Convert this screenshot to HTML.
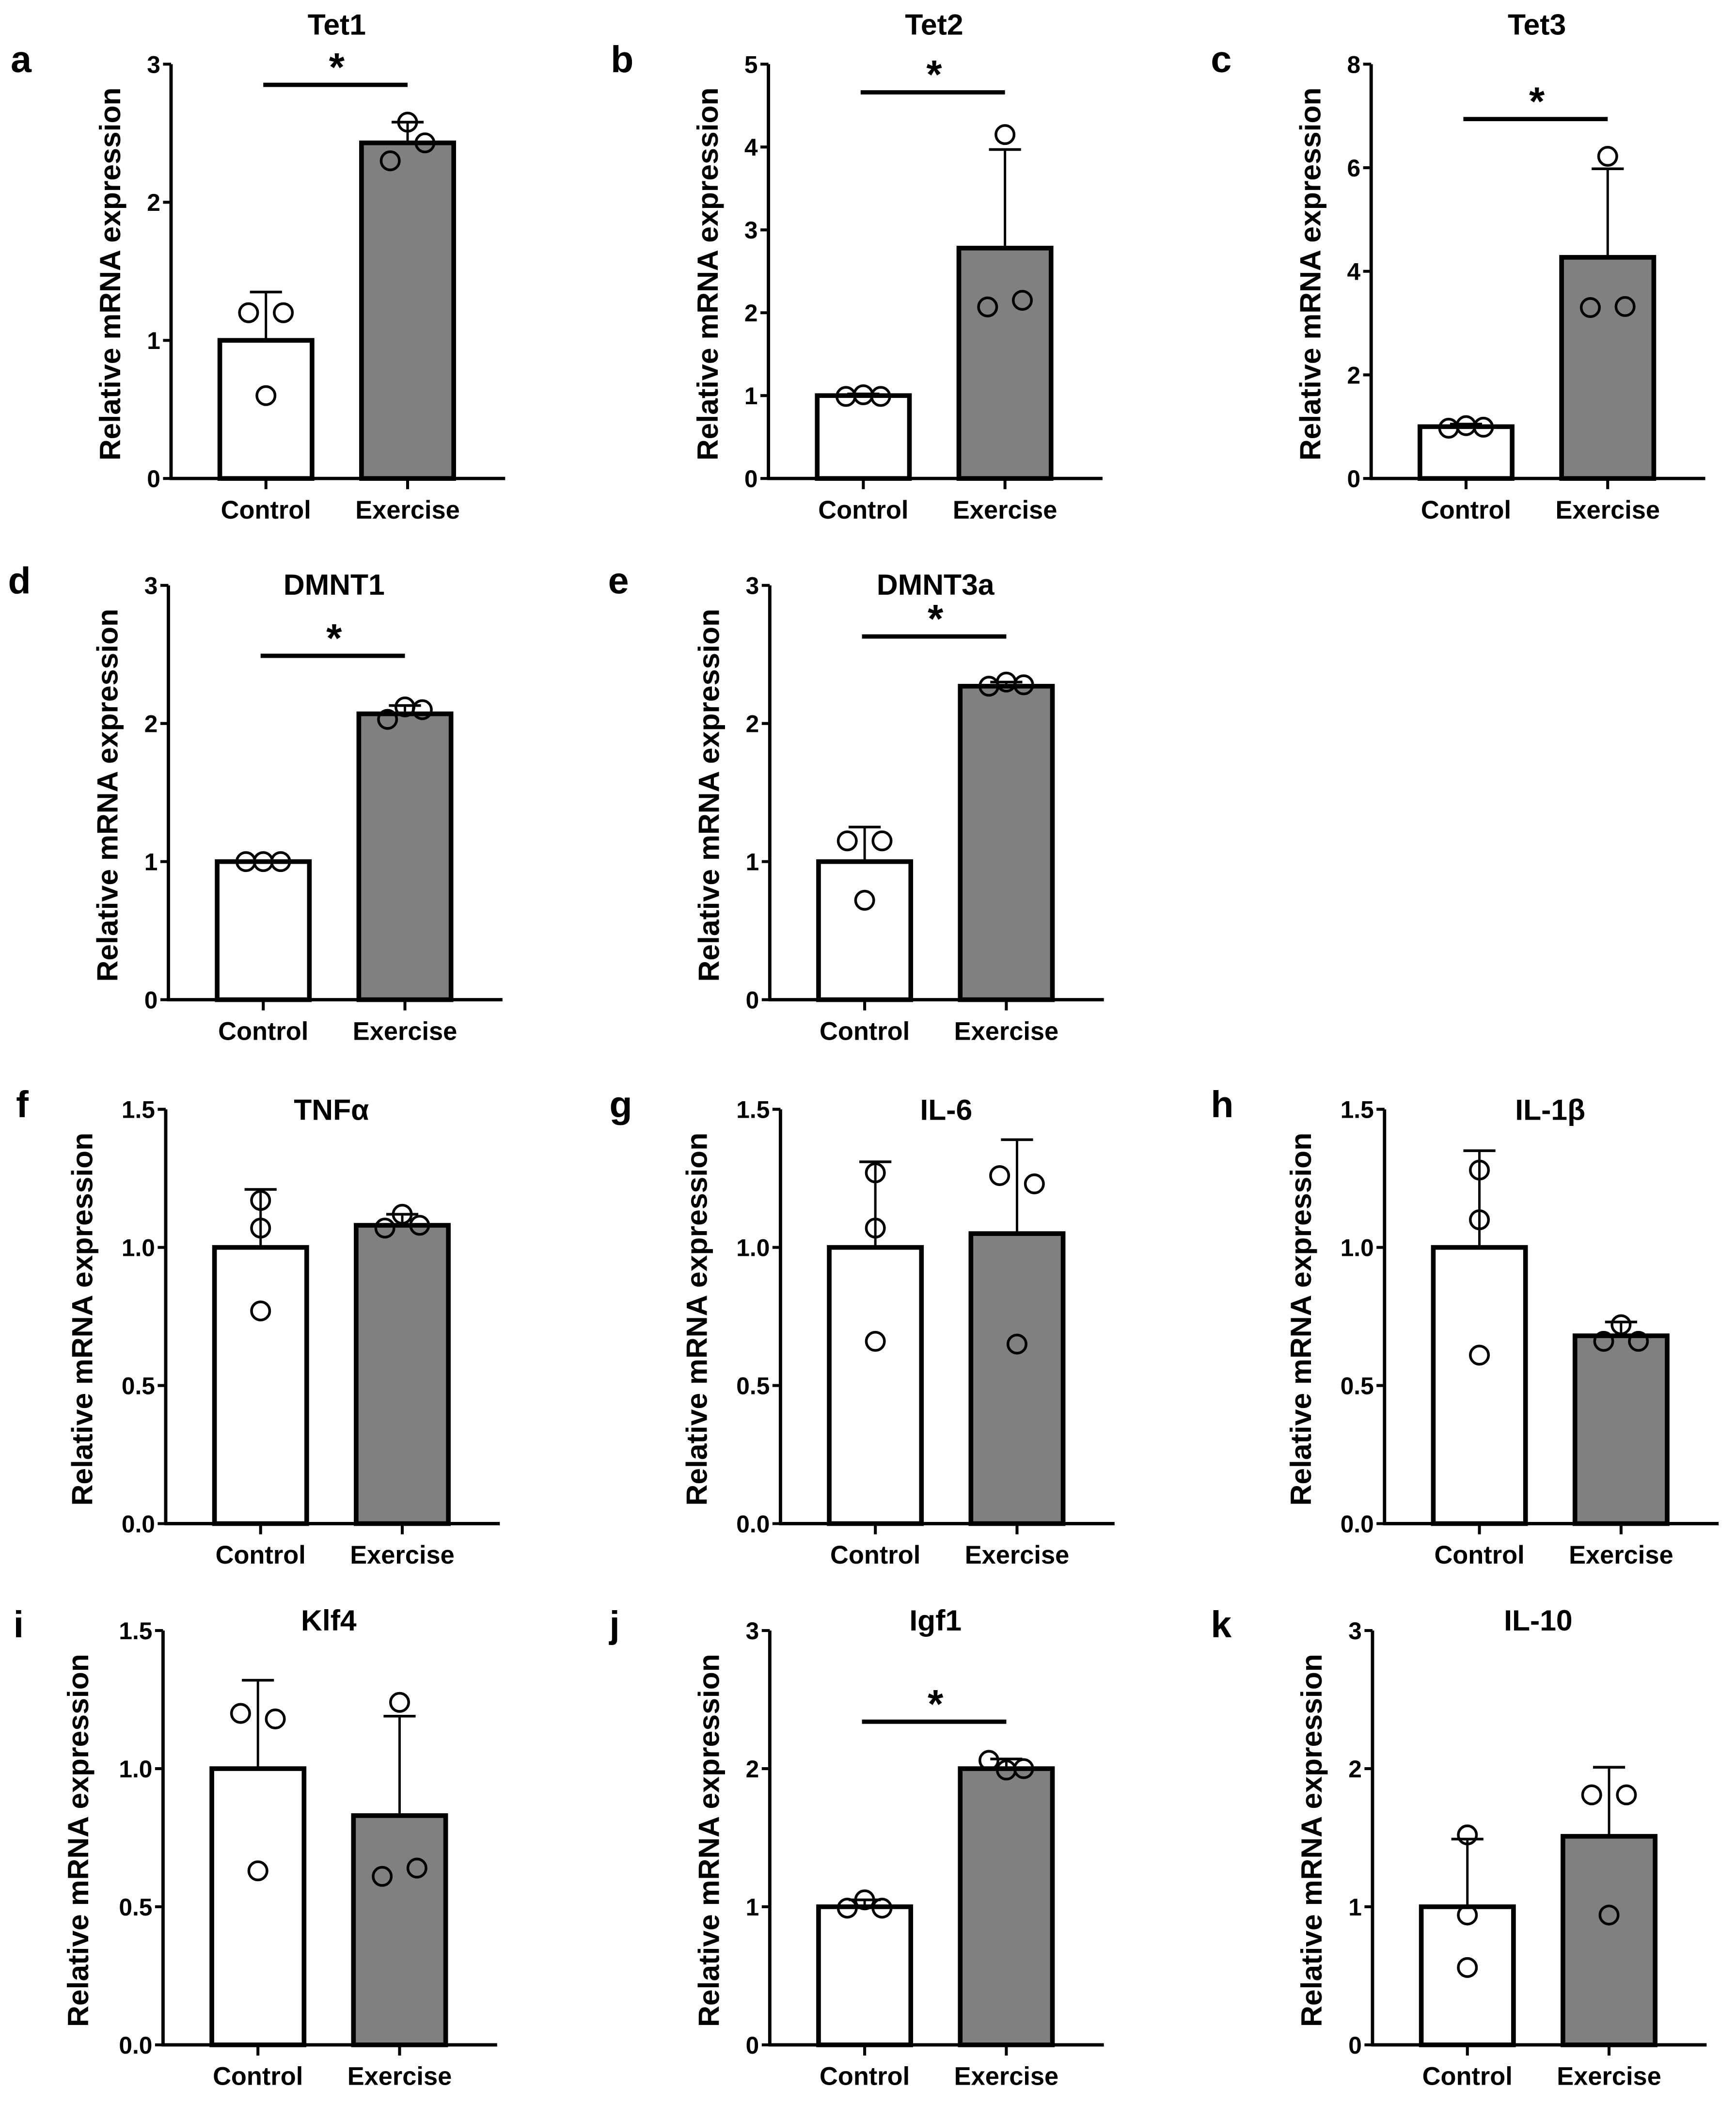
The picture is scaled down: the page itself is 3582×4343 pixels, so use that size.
<!DOCTYPE html>
<html>
<head>
<meta charset="utf-8">
<style>
html,body{margin:0;padding:0;background:#fff;}
svg{display:block;}
text{font-family:"Liberation Sans",Arial,sans-serif;font-weight:bold;fill:#000;}
</style>
</head>
<body>
<svg id="fig" width="3582" height="4343" viewBox="0 0 1299 1575" preserveAspectRatio="none" xmlns="http://www.w3.org/2000/svg"></svg>
<script>
// ---- data ----
const categories = ["Control", "Exercise"];
const panelLetters = ["a","b","c","d","e","f","g","h","i","j","k"];
const panelTitles = ["Tet1","Tet2","Tet3","DMNT1","DMNT3a","TNFα","IL-6","IL-1β","Klf4","Igf1","IL-10"];
const yMaxes = [3,5,8,3,3,1.5,1.5,1.5,1.5,3,3];
const yTickLabels = [
  ["0","1","2","3"],["0","1","2","3","4","5"],["0","2","4","6","8"],
  ["0","1","2","3"],["0","1","2","3"],
  ["0.0","0.5","1.0","1.5"],["0.0","0.5","1.0","1.5"],["0.0","0.5","1.0","1.5"],
  ["0.0","0.5","1.0","1.5"],["0","1","2","3"],["0","1","2","3"]
];
const controlMeans = [1.0,1.0,1.0,1.0,1.0,1.0,1.0,1.0,1.0,1.0,1.0];
const exerciseMeans = [2.43,2.78,4.27,2.07,2.27,1.08,1.05,0.68,0.83,2.0,1.51];
const controlErrTops = [1.35,1.02,1.05,1.0,1.25,1.21,1.31,1.35,1.32,1.05,1.49];
const exerciseErrTops = [2.58,3.97,5.98,2.13,2.3,1.12,1.39,0.73,1.19,2.07,2.01];
const controlPoints = [
  [1.2,0.6,1.2],[0.99,1.01,0.99],[0.97,1.02,0.99],[1.0,1.0,1.0],[1.15,0.72,1.15],
  [1.17,1.07,0.77],[1.27,1.07,0.66],[1.28,1.1,0.61],[1.2,0.63,1.18],[0.99,1.05,0.99],[1.52,0.94,0.56]
];
const exercisePoints = [
  [2.3,2.58,2.43],[2.07,4.15,2.15],[3.3,6.22,3.32],[2.03,2.12,2.1],[2.27,2.3,2.28],
  [1.07,1.12,1.08],[1.26,0.65,1.23],[0.66,0.72,0.66],[0.61,1.24,0.64],[2.06,1.99,2.0],[1.81,0.94,1.81]
];
const significant = [true,true,true,true,true,false,false,false,false,true,false];
const sigBarValues = [2.85,4.66,6.94,2.49,2.63,0,0,0,0,2.34,0];

// ---- layout (overview units) ----
const axisXs = [128,575,1026,126,576,124,584,1036,122,576,1027];
const y0s = [358,358,358,748,748,1140,1140,1140,1530,1530,1530];
const titleYs = [18,18,18,437,437,830,830,830,1212,1212,1212];
const letterXs = [8,457,906,6,455,12,456,906,10,456,906];
const letterYs = [54,54,54,444,444,836,836,836,1225,1225,1225];
const yTitleOffsets = [38,38,38,38,38,55,55,55,56,38,38];
const ctrlJitter = [[-13,0,13],[-13,0,13],[-13,0,13],[-13,0,13],[-13,0,13],[0,0,0],[0,0,0],[0,0,0],[-13,0,13],[-13,0,13],[0,0,0]];
const exJitter = [[-13,0,13],[-13,0,13],[-13,0,13],[-13,0,13],[-13,0,13],[-13,0,13],[-13,0,13],[-13,0,13],[-13,0,13],[-13,0,13],[-13,0,13]];
const PLOT_H = 310;

const NS = "http://www.w3.org/2000/svg";
const svg = document.getElementById("fig");
function mk(tag, attrs, parent){
  const e = document.createElementNS(NS, tag);
  for (const k in attrs) e.setAttribute(k, attrs[k]);
  (parent||svg).appendChild(e);
  return e;
}

for (let p = 0; p < panelTitles.length; p++) {
  const ax = axisXs[p], y0 = y0s[p], ymax = yMaxes[p];
  const yScale = v => y0 - v / ymax * PLOT_H;
  const xCenters = [ax + 71, ax + 177];
  const barW = 69;

  const g = mk("g", {});
  
  

  const letter = mk("text", {x: letterXs[p], y: letterYs[p], "font-size": 28}, g);
  letter.textContent = panelLetters[p];
  
  

  const title = mk("text", {x: ax + 124, y: titleYs[p] + 8, "font-size": 22, "text-anchor": "middle"}, g);
  title.textContent = panelTitles[p];
  
  

  const yt = mk("text", {x: 0, y: 0, "font-size": 22, "text-anchor": "middle",
    transform: "translate(" + (ax - yTitleOffsets[p]) + "," + (y0 - PLOT_H / 2 + 2) + ") rotate(-90)"}, g);
  yt.textContent = "Relative mRNA expression";
  
  

  const means = [controlMeans[p], exerciseMeans[p]];
  const tops = [controlErrTops[p], exerciseErrTops[p]];
  const pts = [controlPoints[p], exercisePoints[p]];
  const jit = [ctrlJitter[p], exJitter[p]];
  for (let c = 0; c < 2; c++) {
    const cx = xCenters[c];
    const yb = yScale(means[c]);
    const et = yScale(tops[c]);
    const eb = mk("line", {x1: cx, x2: cx, y1: yb, y2: et, stroke: "#000", "stroke-width": 1.8}, g);
    
    
    const cap = mk("line", {x1: cx - 12, x2: cx + 12, y1: et, y2: et, stroke: "#000", "stroke-width": 2}, g);
    
    
    const bar = mk("rect", {x: cx - barW / 2, y: yb, width: barW, height: y0 - yb,
      fill: c === 0 ? "#fff" : "#808080", stroke: "#000", "stroke-width": 3.5}, g);
    
    
    for (let i = 0; i < 3; i++) {
      const dot = mk("circle", {cx: cx + jit[c][i], cy: yScale(pts[c][i]), r: 6.8,
        fill: "none", stroke: "#000", "stroke-width": 2}, g);
      
      
    }
  }

  const yaxis = mk("line", {x1: ax, x2: ax, y1: y0 - PLOT_H, y2: y0 + 1, stroke: "#000", "stroke-width": 2.5}, g);
  
  
  const xaxis = mk("line", {x1: ax - 1, x2: ax + 250, y1: y0, y2: y0, stroke: "#000", "stroke-width": 2.5}, g);
  
  

  const labs = yTickLabels[p];
  for (let i = 0; i < labs.length; i++) {
    const v = parseFloat(labs[i]);
    const yy = yScale(v);
    const t = mk("line", {x1: ax - 6, x2: ax, y1: yy, y2: yy, stroke: "#000", "stroke-width": 2.2}, g);
    
    
    const tl = mk("text", {x: ax - 8, y: yy + 6.5, "font-size": 18, "text-anchor": "end"}, g);
    tl.textContent = labs[i];
    
    
  }
  for (let c = 0; c < 2; c++) {
    const t = mk("line", {x1: xCenters[c], x2: xCenters[c], y1: y0, y2: y0 + 8, stroke: "#000", "stroke-width": 2.2}, g);
    
    
    const cl = mk("text", {x: xCenters[c], y: y0 + 30, "font-size": 19, "text-anchor": "middle"}, g);
    cl.textContent = categories[c];
    
    
  }

  if (significant[p]) {
    const sy = yScale(sigBarValues[p]);
    const sb = mk("line", {x1: xCenters[0] - 2, x2: xCenters[1], y1: sy, y2: sy, stroke: "#000", "stroke-width": 3.2}, g);
    
    
    const st = mk("text", {x: (xCenters[0] + xCenters[1]) / 2, y: sy - 3, "font-size": 30, "text-anchor": "middle"}, g);
    st.textContent = "*";
    
    
  }
}
</script>
</body>
</html>
